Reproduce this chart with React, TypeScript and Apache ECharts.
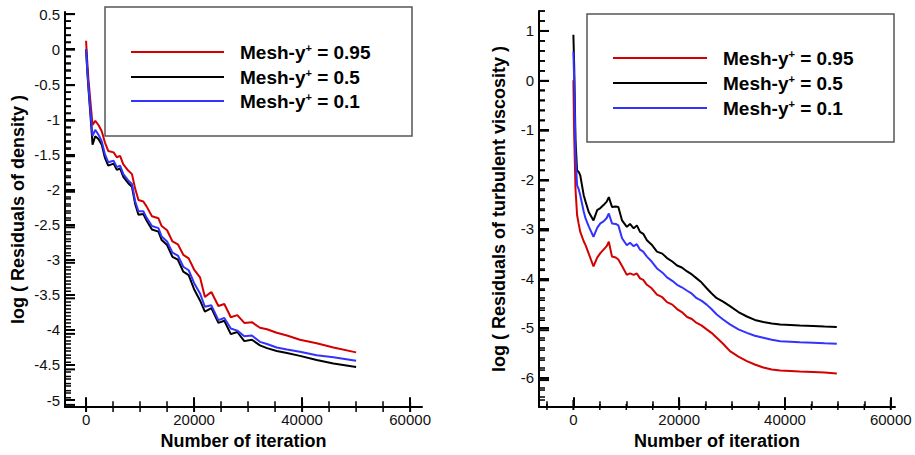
import React, { useEffect, useRef } from "react";
import * as echarts from "echarts";

const FONT = "Liberation Sans, Arial, sans-serif";
const RED = "#d40000";
const BLACK = "#000000";
const BLUE = "#3333ff";

const seriesNames = ["Mesh-y+ = 0.95", "Mesh-y+ = 0.5", "Mesh-y+ = 0.1"];

const densityIter = [
  0, 200, 430, 870, 1200, 1700, 2300, 2900, 3500, 4100, 5100, 5700, 6300, 6900, 7800, 8500, 9100, 9700,
  10600, 11200, 12200, 13400, 14000, 15000, 16000, 17000, 18000, 19000, 20000, 21100, 22000, 23200, 24500,
  25600, 26800, 28000, 29300, 30700, 32200, 33500, 35300, 37200, 39600, 42700, 45800, 50000,
];
const densityRed = [
  0.12, -0.15, -0.42, -0.8, -1.08, -1.02, -1.08, -1.17, -1.33, -1.45, -1.47, -1.54, -1.52, -1.64, -1.73, -1.78,
  -1.99, -2.15, -2.17, -2.24, -2.38, -2.41, -2.52, -2.58, -2.74, -2.78, -2.93, -2.98, -3.14, -3.25, -3.53, -3.46,
  -3.66, -3.63, -3.82, -3.79, -3.9, -3.89, -3.97, -3.99, -4.04, -4.08, -4.14, -4.19, -4.25, -4.32,
];
const densityBlack = [
  0.0, -0.28, -0.55, -1.0, -1.36, -1.24, -1.28, -1.36, -1.55, -1.66, -1.63, -1.72, -1.7, -1.82, -1.91, -1.96,
  -2.21, -2.36, -2.35, -2.44, -2.57, -2.6, -2.72, -2.79, -2.96, -3.0, -3.17, -3.22, -3.42, -3.58, -3.74, -3.69,
  -3.9, -3.87, -4.06, -4.03, -4.16, -4.14, -4.22, -4.26, -4.3, -4.33, -4.37, -4.43, -4.48, -4.53,
];
const densityBlue = [
  0.0, -0.25, -0.51, -0.94, -1.24, -1.15, -1.22, -1.31, -1.5, -1.61, -1.59, -1.68, -1.66, -1.78, -1.87, -1.92,
  -2.17, -2.31, -2.31, -2.4, -2.52, -2.55, -2.67, -2.74, -2.9, -2.94, -3.1, -3.15, -3.33, -3.48, -3.67, -3.65,
  -3.86, -3.83, -3.98, -4.01, -4.09, -4.08, -4.17, -4.2, -4.25, -4.28, -4.31, -4.36, -4.39, -4.44,
];

const viscIter = [
  0, 150, 400, 700, 1000, 1300, 1950, 2300, 2900, 3800, 4500, 5100, 5700, 6300, 6700, 7300, 8000, 8500, 9200,
  10100, 10700, 11400, 12000, 12600, 13200, 13900, 14800, 15800, 16800, 17700, 18700, 19600, 20500, 21500,
  22400, 23300, 24200, 25200, 26100, 27100, 28300, 29600, 31200, 32800, 34300, 35900, 37500, 39100, 41000,
  42800, 45300, 47500, 49800,
];
const viscRed = [
  0.0, -1.1, -2.2, -2.72, -2.9, -3.06, -3.25, -3.33, -3.5, -3.76, -3.58, -3.49, -3.42, -3.35, -3.26, -3.56, -3.58,
  -3.62, -3.75, -3.93, -3.9, -3.93, -3.9, -4.0, -4.03, -4.13, -4.2, -4.33, -4.38, -4.48, -4.53, -4.62, -4.68,
  -4.78, -4.82, -4.9, -4.95, -5.03, -5.1, -5.2, -5.32, -5.47, -5.58, -5.67, -5.74, -5.8, -5.84, -5.86, -5.87,
  -5.88, -5.89, -5.9, -5.92,
];
const viscBlack = [
  0.92, 0.3, -1.2, -1.82, -1.85, -1.92, -2.32, -2.45, -2.66, -2.83, -2.62, -2.58, -2.52, -2.45, -2.36, -2.56,
  -2.55, -2.56, -2.83, -2.96, -2.9, -2.99, -2.93, -3.06, -3.1, -3.23, -3.32, -3.46, -3.5, -3.59, -3.66, -3.74,
  -3.78, -3.86, -3.92, -4.0, -4.08, -4.2, -4.3, -4.4, -4.47, -4.56, -4.68, -4.77, -4.84, -4.88, -4.91, -4.93,
  -4.94, -4.95, -4.96, -4.97, -4.98,
];
const viscBlue = [
  0.58, 0.0, -1.5, -2.12, -2.2, -2.32, -2.65, -2.79, -2.95, -3.16, -2.98, -2.89, -2.85, -2.78, -2.69, -2.89, -2.9,
  -2.93, -3.19, -3.33, -3.28, -3.35, -3.31, -3.42, -3.46, -3.56, -3.66, -3.8, -3.88, -3.98, -4.05, -4.13, -4.18,
  -4.25, -4.31, -4.4, -4.45, -4.53, -4.62, -4.73, -4.83, -4.93, -5.03, -5.1, -5.16, -5.2, -5.24, -5.27, -5.28,
  -5.29, -5.3, -5.31, -5.32,
];

const xMajor = [0, 20000, 40000, 60000];
const xMinorLeft = [5000, 10000, 15000, 25000, 30000, 35000, 45000, 50000, 55000];
const xMinorRight = [-5000, 5000, 10000, 15000, 25000, 30000, 35000, 45000, 50000, 55000];
const yMajorLeft = [0.5, 0, -0.5, -1, -1.5, -2, -2.5, -3, -3.5, -4, -4.5, -5];
const yMajorRight = [1, 0, -1, -2, -3, -4, -5, -6];
const yMinorLeft = [
  0.4, 0.3, 0.2, 0.1, -0.1, -0.2, -0.3, -0.4, -0.6, -0.7, -0.8, -0.9, -1.1, -1.2, -1.3, -1.4, -1.6, -1.7, -1.8, -1.9,
  -2.1, -2.2, -2.3, -2.4, -2.6, -2.7, -2.8, -2.9, -3.1, -3.2, -3.3, -3.4, -3.6, -3.7, -3.8, -3.9, -4.1, -4.2, -4.3,
  -4.4, -4.6, -4.7, -4.8, -4.9,
];
const yMinorRight = [
  1.4, 1.2, 0.8, 0.6, 0.4, 0.2, -0.2, -0.4, -0.6, -0.8, -1.2, -1.4, -1.6, -1.8, -2.2, -2.4, -2.6, -2.8, -3.2, -3.4,
  -3.6, -3.8, -4.2, -4.4, -4.6, -4.8, -5.2, -5.4, -5.6, -5.8, -6.2, -6.4,
];

function pairs(xs: number[], ys: number[]) {
  return xs.map((x, i) => [x, ys[i]]);
}

function labelAxis(gridIndex: number, min: number, max: number, ticks: number[], name: string, nameGap: number) {
  return {
    type: "value",
    gridIndex,
    min,
    max,
    name,
    nameLocation: "middle",
    nameGap,
    nameTextStyle: { fontFamily: FONT, fontWeight: "bold", fontSize: 18, color: "#000" },
    axisLine: { show: true, onZero: false, lineStyle: { color: "#000", width: 2 } },
    axisTick: { show: false },
    axisLabel: {
      show: true,
      customValues: ticks,
      formatter: (v: number) => String(v),
      fontFamily: FONT,
      fontSize: 15,
      color: "#111",
      margin: 5,
    },
    splitLine: { show: false },
  };
}

function legendGraphics(box: { x: number; y: number; w: number; h: number }, lineX0: number, lineX1: number, textX: number, ys: number[]) {
  const colors = [RED, BLACK, BLUE];
  const els: any[] = [
    {
      type: "rect",
      z: 100,
      shape: { x: box.x, y: box.y, width: box.w, height: box.h },
      style: { fill: "#fff", stroke: "#555", lineWidth: 1.5 },
    },
  ];
  seriesNames.forEach((name, i) => {
    els.push({
      type: "line",
      z: 101,
      shape: { x1: lineX0, y1: ys[i], x2: lineX1, y2: ys[i] },
      style: { stroke: colors[i], lineWidth: 2 },
    });
    els.push({
      type: "text",
      z: 101,
      x: textX,
      y: ys[i],
      style: {
        text: name.replace("+", "{sup|+}"),
        fontFamily: FONT,
        fontSize: 19,
        fontWeight: "bold",
        fill: "#000",
        verticalAlign: "middle",
        rich: {
          sup: { fontFamily: FONT, fontSize: 11, fontWeight: "bold", fill: "#000", verticalAlign: "top", padding: [0, 0, 6, 0] },
        },
      },
    });
  });
  return els;
}

type Grid = { left: number; top: number; width: number; height: number; xr: number[]; yr: number[] };

// Tick marks as a "lines" series in data space; length given in pixels, converted with the axis extent.
function tickLines(gi: number, g: Grid, vals: number[], dir: "x" | "y", lenPx: number, width: number) {
  const dy = (lenPx / g.height) * (g.yr[1] - g.yr[0]);
  const dx = (lenPx / g.width) * (g.xr[1] - g.xr[0]);
  return {
    type: "lines",
    coordinateSystem: "cartesian2d",
    xAxisIndex: gi,
    yAxisIndex: gi,
    silent: true,
    z: 10,
    polyline: false,
    lineStyle: { color: "#000", width, opacity: 1, curveness: 0 },
    data: vals.map((v) => ({
      coords: dir === "x" ? [[v, g.yr[0]], [v, g.yr[0] + dy]] : [[g.xr[0], v], [g.xr[0] + dx, v]],
    })),
  };
}

// Same ticks as graphic lines, placed with the grid's linear value-to-pixel mapping
function tickGraphics(g: Grid, vals: number[], dir: "x" | "y", len: number, width: number) {
  return vals.map((v) => {
    const px = g.left + ((v - g.xr[0]) / (g.xr[1] - g.xr[0])) * g.width;
    const py = g.top + g.height - ((v - g.yr[0]) / (g.yr[1] - g.yr[0])) * g.height;
    const bottom = g.top + g.height;
    return {
      type: "line",
      z: 90,
      silent: true,
      shape: dir === "x" ? { x1: px, y1: bottom, x2: px, y2: bottom - len } : { x1: g.left, y1: py, x2: g.left + len, y2: py },
      style: { stroke: "#000", lineWidth: width },
    };
  });
}

export default function App() {
  const ref = useRef<HTMLDivElement>(null);
  useEffect(() => {
    if (!ref.current) return;
    const chart = echarts.init(ref.current, undefined, { renderer: "svg" });
    const colors = [RED, BLACK, BLUE];
    const leftData = [densityRed, densityBlack, densityBlue];
    const rightData = [viscRed, viscBlack, viscBlue];

    const G: Grid[] = [
      { left: 65, top: 12, width: 357, height: 400, xr: [-3900, 62200], yr: [-5.1, 0.53] },
      { left: 539, top: 11, width: 356, height: 399, xr: [-6500, 60800], yr: [-6.6, 1.4] },
    ];

    const series: any[] = [];
    seriesNames.forEach((name, i) => {
      series.push({
        name,
        type: "line",
        xAxisIndex: 0,
        yAxisIndex: 0,
        data: pairs(densityIter, leftData[i]),
        showSymbol: false,
        symbol: "none",
        lineStyle: { color: colors[i], width: 2 },
        itemStyle: { color: colors[i] },
      });
    });
    seriesNames.forEach((name, i) => {
      series.push({
        name,
        type: "line",
        xAxisIndex: 1,
        yAxisIndex: 1,
        data: pairs(viscIter, rightData[i]),
        showSymbol: false,
        symbol: "none",
        lineStyle: { color: colors[i], width: 2 },
        itemStyle: { color: colors[i] },
      });
    });
    series.push(
      tickLines(0, G[0], xMajor, "x", 10, 2),
      tickLines(0, G[0], xMinorLeft, "x", 6, 1.5),
      tickLines(0, G[0], yMajorLeft, "y", 10, 2),
      tickLines(0, G[0], yMinorLeft, "y", 6, 1.5),
      tickLines(1, G[1], xMajor, "x", 10, 2),
      tickLines(1, G[1], xMinorRight, "x", 6, 1.5),
      tickLines(1, G[1], yMajorRight, "y", 10, 2),
      tickLines(1, G[1], yMinorRight, "y", 6, 1.5)
    );

    const tickEls = [
      ...tickGraphics(G[0], xMajor, "x", 10, 2),
      ...tickGraphics(G[0], xMinorLeft, "x", 6, 1.5),
      ...tickGraphics(G[0], yMajorLeft, "y", 10, 2),
      ...tickGraphics(G[0], yMinorLeft, "y", 6, 1.5),
      ...tickGraphics(G[1], xMajor, "x", 10, 2),
      ...tickGraphics(G[1], xMinorRight, "x", 6, 1.5),
      ...tickGraphics(G[1], yMajorRight, "y", 10, 2),
      ...tickGraphics(G[1], yMinorRight, "y", 6, 1.5),
    ];

    chart.setOption({
      animation: false,
      backgroundColor: "#fff",
      grid: G.map((g) => ({ left: g.left, top: g.top, width: g.width, height: g.height })),
      xAxis: [
        labelAxis(0, G[0].xr[0], G[0].xr[1], xMajor, "Number of iteration", 18),
        labelAxis(1, G[1].xr[0], G[1].xr[1], xMajor, "Number of iteration", 18),
      ],
      yAxis: [
        labelAxis(0, G[0].yr[0], G[0].yr[1], yMajorLeft, "log ( Residuals of density )", 38),
        labelAxis(1, G[1].yr[0], G[1].yr[1], yMajorRight, "log ( Residuals of turbulent viscosity )", 31),
      ],
      series,
      graphic: [
        ...legendGraphics({ x: 105, y: 7, w: 307, h: 129 }, 131, 224, 240, [52, 77, 101]),
        ...legendGraphics({ x: 587, y: 14, w: 307, h: 128 }, 613, 707, 723, [58, 83, 108]),
        ...tickEls,
      ],
    });

    return () => chart.dispose();
  }, []);
  return <div ref={ref} style={{ position: "absolute", left: 0, top: 0, width: 915, height: 455 }} />;
}
